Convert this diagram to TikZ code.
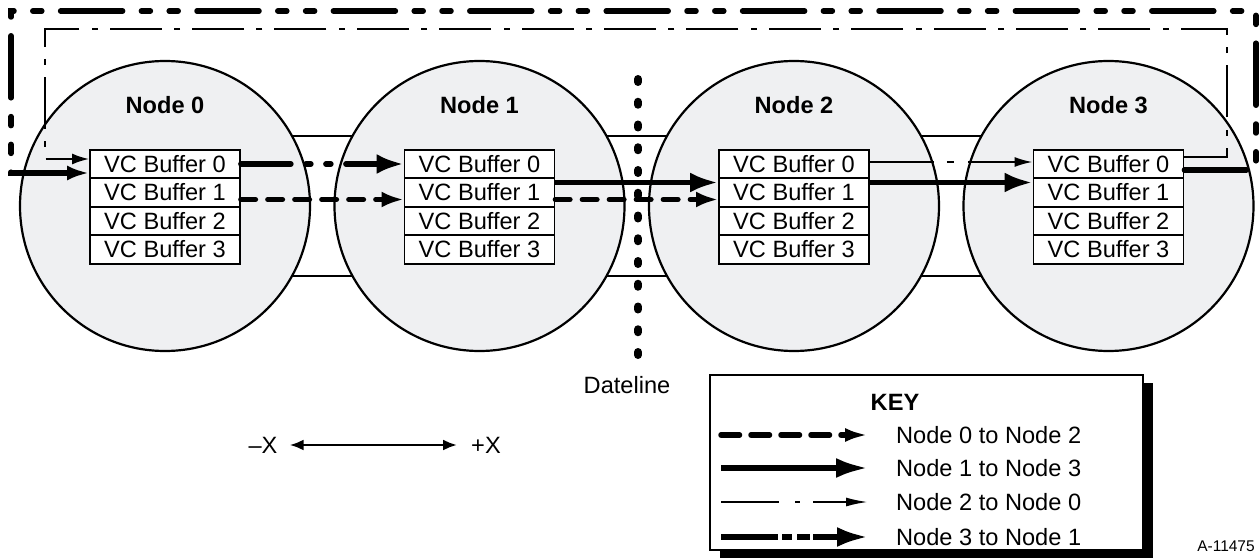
\documentclass[tikz,border=0pt]{standalone}
\usepackage{fontspec}
\setmainfont{Liberation Sans}
\usetikzlibrary{arrows.meta}

\definecolor{nodefill}{RGB}{239,240,242}

\begin{document}
\begin{tikzpicture}[x=1pt,y=-1pt,
  txt/.style={inner sep=0pt, font=\fontsize{23.6}{27}\selectfont, text height=16.9pt, text depth=0pt},
  ring/.style={circle, draw, line width=2.2pt, fill=nodefill, minimum size=290pt, inner sep=0pt},
  buf/.style={txt, draw, line width=1.8pt, fill=white, minimum width=150pt, minimum height=28.5pt},
  band/.style={draw, line width=2pt, fill=white},
  % route styles
  r02/.style={line width=5.5pt, line cap=round, dash pattern=on 14.5pt off 12.5pt, -{Latex[length=22pt,width=16pt]}},
  r13/.style={line width=5.5pt, -{Latex[length=28pt,width=20pt]}},
  r20/.style={line width=2pt, dash pattern=on 52pt off 12pt on 6pt off 12.4pt, -{Latex[length=18pt,width=10pt]}},
  r31/.style={line width=5.5pt, line cap=round, dash pattern=on 62pt off 18.8pt on 9pt off 18.8pt on 9pt off 18.8pt, -{Latex[length=27pt,width=20pt]}},
  dateline/.style={line width=8pt, line cap=round, dash pattern=on 3pt off 19.75pt}
]
\useasboundingbox (0,0) rectangle (1259,559);

% node centres
\coordinate (p0) at (165,206);
\coordinate (p1) at (479.5,206);
\coordinate (p2) at (794,206);
\coordinate (p3) at (1108.5,206);

% ring band joining the nodes
\path[band] ([yshift=70pt]p0) rectangle ([yshift=-70pt]p3);

% nodes with their VC buffers
\foreach \i in {0,1,2,3} {
  \node[ring] (c\i) at (p\i) {};
  \node[txt, font=\fontsize{23.6}{27}\selectfont\bfseries] (l\i) at ([yshift=101pt]p\i) {Node \i};
  \foreach \j in {0,1,2,3} {
    \node[buf] (n\i b\j) at ([yshift={42-28.5*\j}]p\i) {VC Buffer \j};
  }
}

% dateline
\coordinate (dtop) at (638,79);
\coordinate (dbot) at (638,356);
\draw[dateline] (dtop) -- (dbot);
\node[txt] (dl) at (627,385) {Dateline};

% wrap-around corners
\coordinate (trA) at (1256,11);
\coordinate (tlA) at (11,11);
\coordinate (trB) at (1227,29);
\coordinate (tlB) at (45,29);

% Node 3 to Node 1
\draw[r31, -{Latex[length=22pt,width=15pt]}] ([yshift=-6pt]n3b0.east) -| (trA) -- (tlA) |- ([yshift=-9pt]n0b0.west);
\draw[r31, dash pattern=on 50pt off 15pt on 5pt off 15pt on 5pt off 15pt] (n0b0.east) -- (n1b0.west);

% Node 2 to Node 0
\draw[r20, dash pattern=on 64pt off 13pt on 7pt off 14pt] ([yshift=2pt]n2b0.east) -- ([yshift=2pt]n3b0.west);
\draw[r20, -{Latex[length=17pt,width=11pt]}] ([yshift=7pt]n3b0.east) -| (trB) -- (tlB) |- ([yshift=5pt]n0b0.west);

% Node 0 to Node 2
\draw[r02] ([yshift=-7pt]n0b1.east) -- ([yshift=-7pt]n1b1.west);
\draw[r02] ([yshift=-7pt]n1b1.east) -- ([yshift=-7pt]n2b1.west);

% Node 1 to Node 3
\draw[r13] ([yshift=10pt]n1b1.east) -- ([yshift=10pt]n2b1.west);
\draw[r13] ([yshift=10pt]n2b1.east) -- ([yshift=10pt]n3b1.west);

% direction indicator
\node[txt] (mx) at (263,445) {–X};
\node[txt] (px) at (486,445) {+X};
\draw[line width=2.5pt, {Latex[length=14pt,width=11pt]}-{Latex[length=14pt,width=11pt]}] ([xshift=12pt]mx.east) -- ([xshift=-14pt]px.west);

% key
\fill (720,383) rectangle (1153,558);
\draw[line width=2pt, fill=white] (710,375) rectangle (1143,550);
\node[txt, font=\fontsize{23.6}{27}\selectfont\bfseries] (keyt) at (895,402) {KEY};

\coordinate (k1a) at (721,435); \coordinate (k1b) at (868,435);
\coordinate (k2a) at (721,468); \coordinate (k2b) at (868,468);
\coordinate (k3a) at (721,502); \coordinate (k3b) at (868,502);
\coordinate (k4a) at (721,537); \coordinate (k4b) at (868,537);

\draw[r02, dash pattern=on 18.5pt off 11.5pt, -{Latex[length=23pt,width=14pt]}] (k1a) -- (k1b);
\draw[r13, -{Latex[length=32pt,width=20pt]}] (k2a) -- (k2b);
\draw[r20, dash pattern=on 58pt off 16pt on 5pt off 13pt on 200pt, -{Latex[length=22pt,width=9pt]}] (k3a) -- (k3b);
\draw[r31, line cap=butt, dash pattern=on 57pt off 4pt on 10pt off 5pt on 13pt off 3pt on 200pt, -{Latex[length=31pt,width=20pt]}] (k4a) -- (k4b);

\node[txt, anchor=west] (t1) at (896,435) {Node 0 to Node 2};
\node[txt, anchor=west] (t2) at (896,468) {Node 1 to Node 3};
\node[txt, anchor=west] (t3) at (896,502) {Node 2 to Node 0};
\node[txt, anchor=west] (t4) at (896,537) {Node 3 to Node 1};

\node[inner sep=0pt, font=\fontsize{15.5}{18}\selectfont] (fig) at (1226,546) {A-11475};
\end{tikzpicture}
\end{document}
